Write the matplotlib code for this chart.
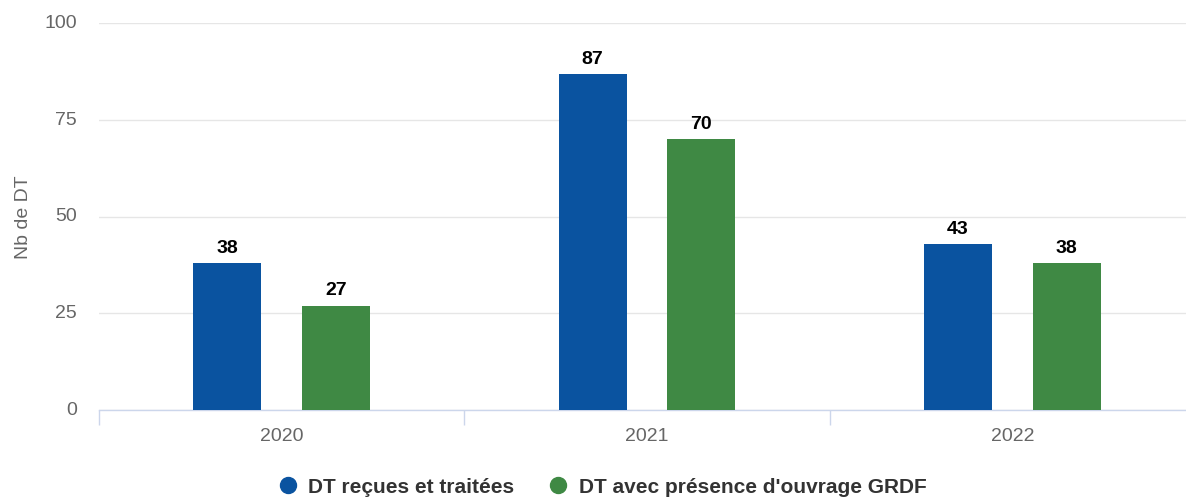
import numpy as np
import matplotlib
matplotlib.use('Agg')
import matplotlib.pyplot as plt
from matplotlib.lines import Line2D

plt.rcParams['font.family'] = ['Liberation Sans', 'DejaVu Sans']

years = ['2020', '2021', '2022']
recues = [38, 87, 43]
grdf = [27, 70, 38]
series_names = ['DT reçues et traitées', "DT avec présence d'ouvrage GRDF"]
colors = ['#0A53A0', '#3F8944']

fig = plt.figure(figsize=(11.86, 4.98), dpi=100)
ax = fig.add_axes([99 / 1186, 88 / 498, 1096 / 1186, 386.5 / 498])

x = np.arange(len(years))
w = 0.186
off = 0.149
b1 = ax.bar(x - off, recues, w, color=colors[0], zorder=3)
b2 = ax.bar(x + off, grdf, w, color=colors[1], zorder=3)
for bars in (b1, b2):
    for r in bars:
        ax.text(r.get_x() + r.get_width() / 2, r.get_height() + 3.8, str(int(r.get_height())),
                ha='center', va='center', fontsize=14, fontweight='bold', color='black')

ax.set_xlim(-0.5, 2.5)
ax.set_ylim(0, 100)
ax.set_yticks([0, 25, 50, 75, 100])
ax.yaxis.grid(True, color='#e6e6e6', linewidth=1, zorder=0)
ax.tick_params(axis='y', length=0, labelsize=14, labelcolor='#666666', pad=16)
for lab in ax.get_yticklabels():
    lab.set_verticalalignment('center')

ax.set_xticks(x)
ax.set_xticklabels(years)
ax.set_xticks([-0.5, 0.5, 1.5], minor=True)
ax.tick_params(axis='x', which='major', length=0, labelsize=14, labelcolor='#666666', pad=13)
ax.tick_params(axis='x', which='minor', length=11, width=1, color='#ccd6eb')

for s in ['top', 'right', 'left']:
    ax.spines[s].set_visible(False)
ax.spines['bottom'].set_color('#ccd6eb')
ax.spines['bottom'].set_linewidth(1)

ax.set_ylabel('Nb de DT', fontsize=14, color='#666666')
ax.yaxis.set_label_coords(-0.061, 0.5)

handles = [Line2D([], [], marker='o', linestyle='', markersize=11.5, color=c) for c in colors]
fig.legend(handles, series_names, loc='center', bbox_to_anchor=(602 / 1186, 1 - 487 / 498),
           ncol=2, frameon=False, prop={'weight': 'bold', 'size': 15}, labelcolor='#333333',
           handletextpad=0.5, columnspacing=1.6, handlelength=1.0)

fig.savefig('out.png', dpi=100)
